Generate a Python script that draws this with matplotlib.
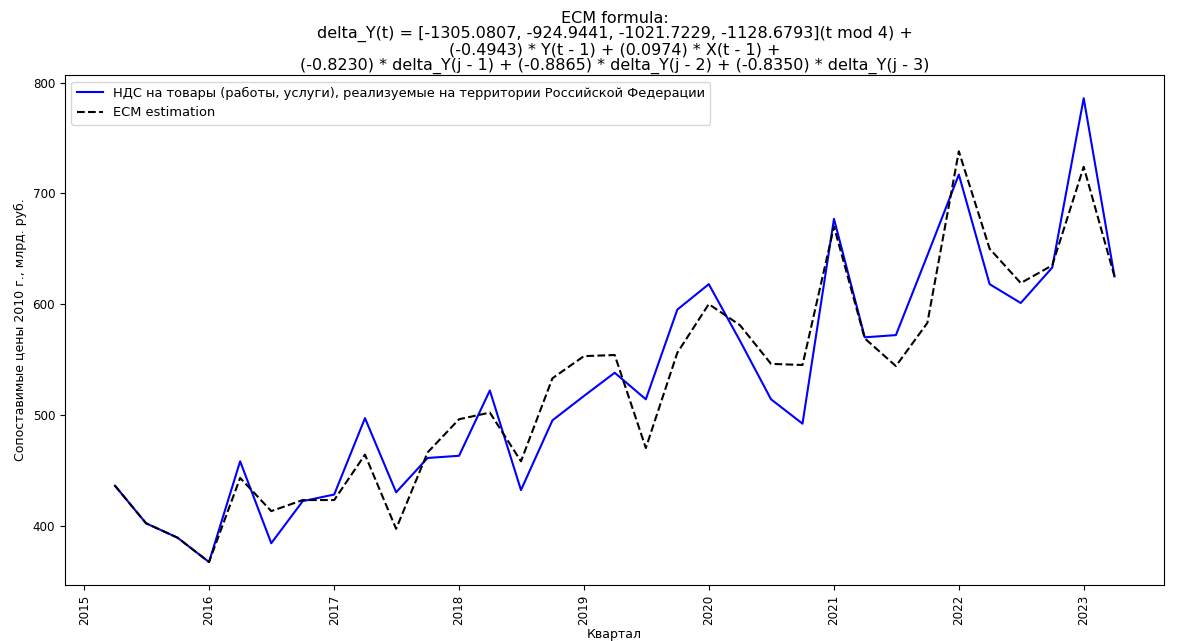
import numpy as np
import pandas as pd
import matplotlib
matplotlib.use("Agg")
import matplotlib.pyplot as plt
import matplotlib.dates as mdates

quarters = pd.date_range("2015-04-01", periods=33, freq="QS")

actual = [436, 402, 389, 367, 458, 384, 422, 428, 497, 430, 461, 463,
          522, 432, 495, 517, 538, 514, 595, 618, 567, 514, 492, 677,
          570, 572, 644, 717, 618, 601, 633, 786, 625]
ecm_est = [436, 402, 389, 367, 443, 413, 423, 423, 464, 397, 466, 496,
           502, 458, 533, 553, 554, 470, 556, 600, 581, 546, 545, 670,
           569, 544, 583, 738, 650, 619, 635, 724, 625]

series_label = "НДС на товары (работы, услуги), реализуемые на территории Российской Федерации"
title = ("ECM formula:\n"
         "delta_Y(t) = [-1305.0807, -924.9441, -1021.7229, -1128.6793](t mod 4) +\n"
         "(-0.4943) * Y(t - 1) + (0.0974) * X(t - 1) +\n"
         "(-0.8230) * delta_Y(j - 1) + (-0.8865) * delta_Y(j - 2) + (-0.8350) * delta_Y(j - 3)")

fig, ax = plt.subplots(figsize=(11.81, 6.41), dpi=100)
fig.subplots_adjust(left=0.055, right=0.986, top=0.883, bottom=0.087)

ax.plot(quarters, actual, color="blue", label=series_label)
ax.plot(quarters, ecm_est, color="black", linestyle="--", label="ECM estimation")

ax.xaxis.set_major_locator(mdates.YearLocator())
ax.xaxis.set_major_formatter(mdates.DateFormatter("%Y"))
ax.tick_params(labelsize=8.6)
plt.setp(ax.get_xticklabels(), rotation=90)

ax.set_title(title, fontsize=11.5, linespacing=1.0, pad=4)
ax.set_xlabel("Квартал", fontsize=9, labelpad=2)
ax.set_ylabel("Сопоставимые цены 2010 г., млрд. руб.", fontsize=9)
ax.legend(loc="upper left", fontsize=9.4)

fig.savefig("out.png", dpi=100)
